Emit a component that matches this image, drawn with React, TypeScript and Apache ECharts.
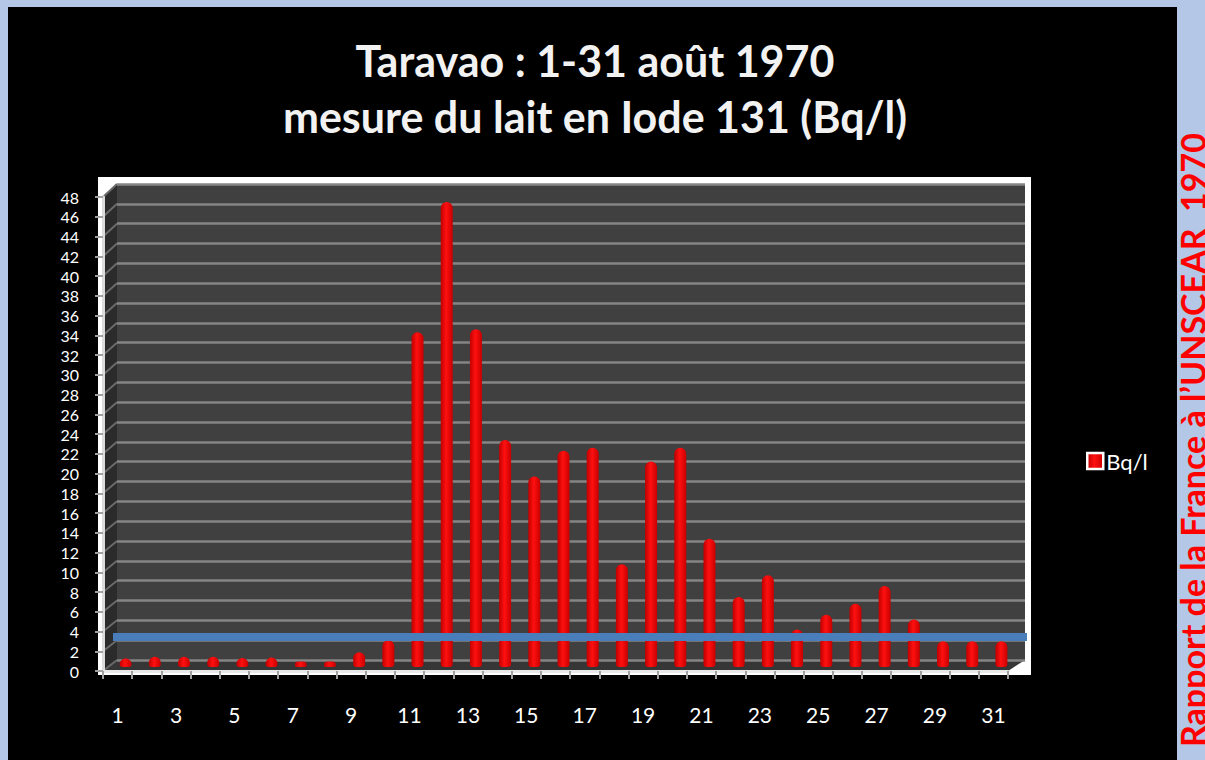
import React, { useEffect, useRef } from "react";
import * as echarts from "echarts";

// ---- data ----
const days = ["1","2","3","4","5","6","7","8","9","10","11","12","13","14","15","16","17","18","19","20","21","22","23","24","25","26","27","28","29","30","31"];
const iodine131 = [0.85, 1.05, 1.05, 1.05, 0.9, 0.95, 0.55, 0.55, 1.5, 2.7, 33.9, 47.1, 34.2, 23.0, 19.3, 21.9, 22.2, 10.4, 20.8, 22.2, 13.0, 7.1, 9.3, 3.8, 5.3, 6.4, 8.2, 4.8, 2.6, 2.6, 2.6];
const referenceLevel = [3.05, 3.05];
const yMin = 0;
const yMax = 48;
const yStep = 2;
const titleLines = ["Taravao : 1-31 août 1970", "mesure du lait en Iode 131 (Bq/l)"];
const seriesName = "Bq/l";
const sideNote = "Rapport de la France à l’UNSCEAR  1970";

// ---- layout ----
const gA = { left: 103, top: 197, width: 905, height: 474 }; // labelled axes (front)
const gB = { left: 111, top: 193, width: 905, height: 474 }; // bars (mid depth)
const gC = { left: 117, top: 184, width: 908, height: 476 }; // back wall
const gD = { left: 113, top: 193, width: 914, height: 474 }; // reference line
const FONT = "Lato";

export default function App() {
  const ref = useRef<HTMLDivElement>(null);
  useEffect(() => {
    if (!ref.current) return;
    const chart = echarts.init(ref.current, null, { renderer: "svg" });
    const hiddenCat = (gridIndex: number) => ({
      type: "category", gridIndex, data: days, boundaryGap: true,
      axisLine: { show: false }, axisTick: { show: false }, axisLabel: { show: false }, splitLine: { show: false },
    });
    const hiddenVal = (gridIndex: number, showSplit: boolean) => ({
      type: "value", gridIndex, min: yMin, max: yMax, interval: yStep,
      axisLine: { show: false }, axisTick: { show: false }, axisLabel: { show: false },
      splitLine: { show: showSplit, lineStyle: { color: "#858585", width: 2.5 } },
    });
    const barGrad = new echarts.graphic.LinearGradient(0, 0, 1, 0, [
      { offset: 0, color: "#c00000" },
      { offset: 0.45, color: "#ff1010" },
      { offset: 1, color: "#c80000" },
    ]);
    chart.setOption({
      animation: false,
      backgroundColor: "#b4c7e7",
      textStyle: { fontFamily: FONT },
      grid: [
        { ...gA, containLabel: false },
        { ...gB, containLabel: false },
        { ...gC, containLabel: false },
        { ...gD, containLabel: false },
      ],
      xAxis: [
        {
          type: "category", gridIndex: 0, data: days, boundaryGap: true,
          axisLine: { show: true, lineStyle: { color: "#e8e8e8", width: 3 } },
          axisTick: { show: true, interval: 0, length: 8, lineStyle: { color: "#a0a0a0", width: 2 } },
          axisLabel: { interval: 1, color: "#ffffff", fontSize: 21, fontFamily: FONT, margin: 33 },
          splitLine: { show: false },
        },
        hiddenCat(1),
        hiddenCat(2),
        { type: "value", gridIndex: 3, min: 0, max: 1, show: false },
      ],
      yAxis: [
        {
          type: "value", gridIndex: 0, min: yMin, max: yMax, interval: yStep,
          axisLine: { show: true, lineStyle: { color: "#dcdcdc", width: 3 } },
          axisTick: { show: true, length: 8, lineStyle: { color: "#a0a0a0", width: 2 } },
          axisLabel: { color: "#ffffff", fontSize: 16, fontFamily: FONT, margin: 24, showMinLabel: true, showMaxLabel: true, hideOverlap: false },
          splitLine: { show: false },
        },
        hiddenVal(1, false),
        hiddenVal(2, true),
        hiddenVal(3, false),
      ],
      legend: {
        data: [seriesName], left: 1081, top: 445, icon: "rect", itemWidth: 16, itemHeight: 16, itemGap: 6,
        itemStyle: { borderColor: "#ffffff", borderWidth: 2.5 },
        textStyle: { color: "#ffffff", fontSize: 22, fontFamily: FONT, padding: [0, 0, 0, -2] },
      },
      series: [
        {
          name: seriesName, type: "bar", xAxisIndex: 1, yAxisIndex: 1, data: iodine131, barWidth: 12, z: 3,
          itemStyle: { color: barGrad, borderRadius: [6, 6, 3, 3] },
        },
        {
          name: "ref", type: "line", xAxisIndex: 3, yAxisIndex: 3, z: 4,
          data: referenceLevel.map((v, i) => [i, v]), symbol: "none", silent: true,
          lineStyle: { color: "#4a7ebb", width: 8 },
        },
      ],
    });

    const yA = (v: number) => chart.convertToPixel({ yAxisIndex: 0 }, v) as number;
    const yC = (v: number) => chart.convertToPixel({ yAxisIndex: 2 }, v) as number;
    const ticks: number[] = [];
    for (let v = yMin; v <= yMax; v += yStep) ticks.push(v);
    const xL = gA.left, xB = gC.left, xR = gC.left + gC.width, xFR = gA.left + gA.width + (gC.left - gA.left);
    const elements: any[] = [
      { type: "rect", z: -10, shape: { x: 8, y: 7, width: 1169, height: 753 }, style: { fill: "#000000" } },
      { type: "rect", z: -9, shape: { x: 98, y: 177, width: 933, height: 498 }, style: { fill: "#ffffff" } },
      { type: "rect", z: -8, shape: { x: xB, y: yC(yMax), width: gC.width, height: yC(yMin) - yC(yMax) }, style: { fill: "#404040" } },
      { type: "polygon", z: -8, shape: { points: [[xL, yA(yMax)], [xB, yC(yMax)], [xB, yC(yMin)], [xL, yA(yMin)]] }, style: { fill: "#2b2b2b" } },
      { type: "polygon", z: -8, shape: { points: [[xL, yA(yMin)], [xB, yC(yMin)], [xR, yC(yMin)], [xFR - 14, yA(yMin)]] }, style: { fill: "#363636" } },
      ...ticks.map((v) => ({
        type: "line", z: -7, shape: { x1: xL, y1: yA(v), x2: xB, y2: yC(v) },
        style: { stroke: "#6a6a6a", lineWidth: 2 },
      })),
      {
        type: "text", z: 10, x: 595, y: 60,
        style: { text: titleLines[0], fill: "#f2f2f2", fontSize: 43, fontWeight: "bold", fontFamily: FONT, align: "center", verticalAlign: "middle" },
      },
      {
        type: "text", z: 10, x: 595, y: 116,
        style: { text: titleLines[1], fill: "#f2f2f2", fontSize: 43, fontWeight: "bold", fontFamily: FONT, align: "center", verticalAlign: "middle" },
      },
      {
        type: "text", z: 10, x: 1192, y: 440, rotation: Math.PI / 2,
        style: { text: sideNote, fill: "#ff0000", fontSize: 34, fontWeight: "bold", fontFamily: FONT, align: "center", verticalAlign: "middle" },
      },
    ];
    chart.setOption({ graphic: { elements } });
    return () => chart.dispose();
  }, []);
  return <div ref={ref} style={{ position: "absolute", left: 0, top: 0, width: 1205, height: 760 }} />;
}
